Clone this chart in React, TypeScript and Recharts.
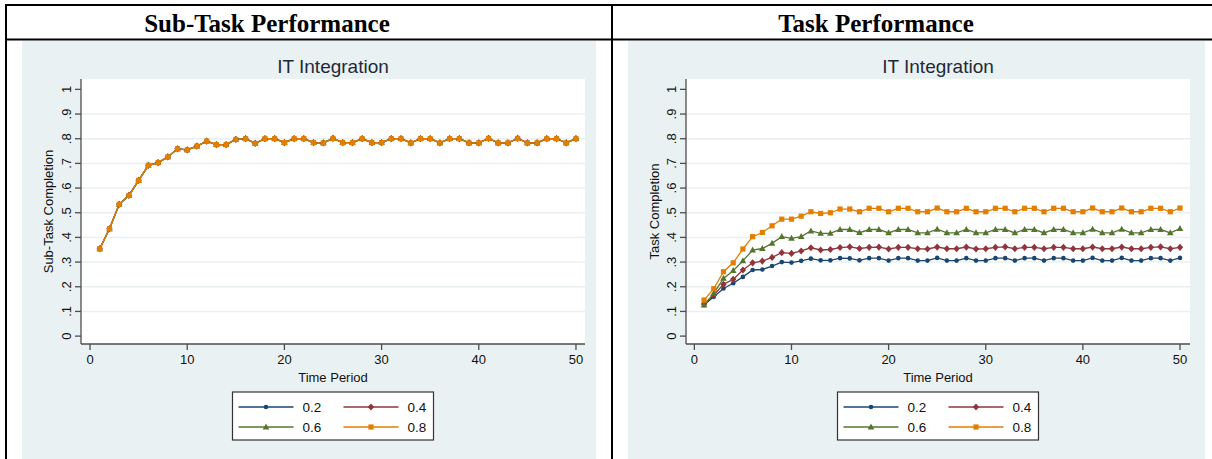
import React from 'react';
import { LineChart, Line, XAxis, YAxis, CartesianGrid } from 'recharts';

// ---------- data ----------
const timePeriods = [
  1, 2, 3, 4, 5, 6, 7, 8, 9, 10, 11, 12, 13, 14, 15, 16, 17, 18, 19, 20, 21, 22, 23, 24, 25,
  26, 27, 28, 29, 30, 31, 32, 33, 34, 35, 36, 37, 38, 39, 40, 41, 42, 43, 44, 45, 46, 47, 48, 49, 50,
];

const seriesNames = ['0.2', '0.4', '0.6', '0.8'];
const seriesColors = ['#1a476f', '#90353b', '#55752f', '#e37e00'];
const seriesShapes = ['circle', 'diamond', 'triangle', 'square'];

const yTicks = [0, 0.1, 0.2, 0.3, 0.4, 0.5, 0.6, 0.7, 0.8, 0.9, 1];
const gridValues = [0.1, 0.2, 0.3, 0.4, 0.5, 0.6, 0.7, 0.8, 0.9];
const xTicks = [0, 10, 20, 30, 40, 50];

const panelHeaders = ['Sub-Task Performance', 'Task Performance'];
const chartTitle = 'IT Integration';
const yTitles = ['Sub-Task Completion', 'Task Completion'];
const xTitle = 'Time Period';

// Sub-task completion (all four rates coincide)
const subTaskCompletion = [
  0.354, 0.435, 0.534, 0.570, 0.631, 0.692, 0.703, 0.726, 0.759, 0.755,
  0.770, 0.790, 0.776, 0.776, 0.797, 0.800, 0.781, 0.800, 0.800, 0.784,
  0.800, 0.800, 0.784, 0.783, 0.801, 0.784, 0.784, 0.800, 0.784, 0.784,
  0.800, 0.800, 0.783, 0.800, 0.800, 0.783, 0.800, 0.800, 0.783, 0.783,
  0.801, 0.783, 0.783, 0.801, 0.783, 0.783, 0.800, 0.800, 0.783, 0.800,
];

const task02 = [
  0.126, 0.159, 0.193, 0.214, 0.240, 0.268, 0.270, 0.284, 0.300, 0.298,
  0.305, 0.314, 0.307, 0.307, 0.316, 0.315, 0.307, 0.316, 0.316, 0.306,
  0.316, 0.316, 0.306, 0.306, 0.317, 0.306, 0.306, 0.316, 0.306, 0.306,
  0.316, 0.316, 0.306, 0.316, 0.316, 0.306, 0.316, 0.316, 0.306, 0.306,
  0.317, 0.306, 0.306, 0.317, 0.306, 0.306, 0.316, 0.316, 0.306, 0.317,
];
const task04 = [
  0.130, 0.166, 0.210, 0.230, 0.268, 0.297, 0.304, 0.319, 0.338, 0.335,
  0.345, 0.358, 0.349, 0.351, 0.359, 0.362, 0.355, 0.360, 0.361, 0.353,
  0.360, 0.360, 0.354, 0.353, 0.361, 0.354, 0.354, 0.361, 0.353, 0.354,
  0.360, 0.362, 0.354, 0.360, 0.360, 0.354, 0.360, 0.360, 0.354, 0.354,
  0.361, 0.354, 0.354, 0.361, 0.354, 0.354, 0.360, 0.362, 0.354, 0.360,
];
const task06 = [
  0.126, 0.173, 0.234, 0.265, 0.305, 0.349, 0.355, 0.376, 0.403, 0.396,
  0.403, 0.426, 0.416, 0.416, 0.432, 0.432, 0.419, 0.432, 0.432, 0.418,
  0.432, 0.432, 0.418, 0.418, 0.433, 0.418, 0.418, 0.432, 0.418, 0.418,
  0.432, 0.432, 0.418, 0.432, 0.432, 0.418, 0.432, 0.432, 0.418, 0.418,
  0.433, 0.418, 0.418, 0.433, 0.418, 0.418, 0.432, 0.432, 0.418, 0.436,
];
const task08 = [
  0.146, 0.192, 0.261, 0.297, 0.353, 0.403, 0.420, 0.447, 0.474, 0.474,
  0.486, 0.504, 0.497, 0.500, 0.515, 0.515, 0.504, 0.518, 0.518, 0.504,
  0.518, 0.518, 0.504, 0.504, 0.519, 0.504, 0.504, 0.518, 0.504, 0.504,
  0.518, 0.518, 0.504, 0.518, 0.518, 0.504, 0.518, 0.518, 0.504, 0.504,
  0.519, 0.504, 0.504, 0.519, 0.504, 0.504, 0.518, 0.518, 0.504, 0.519,
];

const subTaskSeries = [subTaskCompletion, subTaskCompletion, subTaskCompletion, subTaskCompletion];
const taskSeries = [task02, task04, task06, task08];

const buildRows = (series: number[][]) =>
  timePeriods.map((t, i) => {
    const row: Record<string, number> = { t };
    series.forEach((s, k) => {
      row['s' + k] = s[i];
    });
    return row;
  });

const leftRows = buildRows(subTaskSeries);
const rightRows = buildRows(taskSeries);

// ---------- styling ----------
const BG = '#eaf1f3';
const GRID = '#eaf0f2';
const AXIS = '#4d4d4d';
const FONT = 'Liberation Sans, Arial, sans-serif';
const CH_H = 418;
const PLOT_TOP = 38;
const PLOT_BOTTOM = 303;

function Marker({ shape, color, cx, cy }: { shape: string; color: string; cx: number; cy: number }) {
  if (shape === 'circle') return <circle cx={cx} cy={cy} r={2.3} fill={color} />;
  if (shape === 'diamond')
    return <polygon points={`${cx},${cy - 3.6} ${cx + 3.2},${cy} ${cx},${cy + 3.6} ${cx - 3.2},${cy}`} fill={color} />;
  if (shape === 'triangle')
    return <polygon points={`${cx},${cy - 3.6} ${cx + 3.3},${cy + 2.4} ${cx - 3.3},${cy + 2.4}`} fill={color} />;
  return <rect x={cx - 2.6} y={cy - 2.6} width={5.2} height={5.2} fill={color} />;
}

const makeDot = (shape: string, color: string) => (props: any) => {
  const { cx, cy, index } = props;
  if (cx == null || cy == null) return <g key={'d' + index} />;
  return (
    <g key={'d' + index}>
      <Marker shape={shape} color={color} cx={cx} cy={cy} />
    </g>
  );
};

const fmtY = (v: number) => {
  if (v === 0) return '0';
  if (v === 1) return '1';
  return '.' + Math.round(v * 10);
};

const RotTick = (props: any) => {
  const { x, y, payload } = props;
  return (
    <text
      transform={`translate(${x},${y}) rotate(-90)`}
      textAnchor="middle"
      fontSize={13}
      fontFamily={FONT}
      fill="#111"
    >
      {fmtY(payload.value)}
    </text>
  );
};

function Panel({
  left,
  width,
  rows,
  yTitle,
  yAxisWidth,
  rightMargin,
  xDomain,
}: {
  left: number;
  width: number;
  rows: any[];
  yTitle: string;
  yAxisWidth: number;
  rightMargin: number;
  xDomain: [number, number];
}) {
  const plotCx = (yAxisWidth + (width - rightMargin)) / 2;
  const plotCy = (PLOT_TOP + PLOT_BOTTOM) / 2;
  const legendW = 201;
  const lx = plotCx - legendW / 2;
  const ly = 351;
  return (
    <div
      style={{
        position: 'absolute',
        left,
        top: 41,
        width,
        height: CH_H,
        background: BG,
        overflow: 'hidden',
      }}
    >
      <LineChart
        width={width}
        height={CH_H}
        data={rows}
        margin={{ top: PLOT_TOP, right: rightMargin, bottom: CH_H - PLOT_BOTTOM - 30, left: 0 }}
      >
        <CartesianGrid
          vertical={false}
          horizontalValues={gridValues}
          stroke={GRID}
          strokeWidth={1.5}
          fill="#ffffff"
          fillOpacity={1}
        />
        <XAxis
          dataKey="t"
          type="number"
          domain={xDomain}
          ticks={xTicks}
          allowDataOverflow
          height={30}
          tickSize={6}
          tickMargin={5}
          stroke={AXIS}
          strokeWidth={1.3}
          tick={{ fontSize: 13, fontFamily: FONT, fill: '#111' }}
        />
        <YAxis
          type="number"
          domain={[-0.032, 1.042]}
          ticks={yTicks}
          allowDataOverflow
          width={yAxisWidth}
          tickSize={6}
          tickMargin={4}
          stroke={AXIS}
          strokeWidth={1.3}
          tick={<RotTick />}
        />
        {seriesNames.map((name, k) => (
          <Line
            key={name}
            dataKey={'s' + k}
            name={name}
            type="linear"
            stroke={seriesColors[k]}
            strokeWidth={1.3}
            dot={makeDot(seriesShapes[k], seriesColors[k])}
            activeDot={false}
            isAnimationActive={false}
          />
        ))}
      </LineChart>
      <svg
        width={width}
        height={CH_H}
        style={{ position: 'absolute', left: 0, top: 0, pointerEvents: 'none' }}
      >
        <text x={plotCx} y={32} textAnchor="middle" fontSize={19} fontFamily={FONT} fill="#1e2a36">
          {chartTitle}
        </text>
        <text
          transform={`translate(${31},${plotCy}) rotate(-90)`}
          textAnchor="middle"
          fontSize={13}
          fontFamily={FONT}
          fill="#111"
        >
          {yTitle}
        </text>
        <text x={plotCx} y={341} textAnchor="middle" fontSize={13} fontFamily={FONT} fill="#111">
          {xTitle}
        </text>
        <rect x={lx} y={ly} width={legendW} height={48} fill="#ffffff" stroke="#333" strokeWidth={1.2} />
        {seriesNames.map((name, k) => {
          const col = k % 2;
          const row = Math.floor(k / 2);
          const x0 = lx + 6 + col * 105;
          const yy = ly + 15 + row * 20;
          return (
            <g key={name}>
              <line x1={x0} x2={x0 + 55} y1={yy} y2={yy} stroke={seriesColors[k]} strokeWidth={1.3} />
              <Marker shape={seriesShapes[k]} color={seriesColors[k]} cx={x0 + 27.5} cy={yy} />
              <text x={x0 + 64} y={yy + 5} fontSize={13.5} fontFamily={FONT} fill="#111">
                {name}
              </text>
            </g>
          );
        })}
      </svg>
    </div>
  );
}

export default function App() {
  return (
    <div
      style={{
        position: 'absolute',
        left: 0,
        top: 0,
        width: 1212,
        height: 459,
        background: '#ffffff',
        overflow: 'hidden',
      }}
    >
      <svg width={1212} height={459} style={{ position: 'absolute', left: 0, top: 0 }}>
        <line x1={5} x2={1212} y1={5} y2={5} stroke="#000" strokeWidth={2} />
        <line x1={5} x2={1212} y1={39.5} y2={39.5} stroke="#000" strokeWidth={2} />
        <line x1={6} x2={6} y1={4} y2={459} stroke="#000" strokeWidth={2} />
        <line x1={612} x2={612} y1={4} y2={459} stroke="#000" strokeWidth={2} />
        <text
          x={267}
          y={32}
          textAnchor="middle"
          fontSize={25}
          fontWeight="bold"
          fontFamily="Liberation Serif, Times New Roman, serif"
          fill="#000"
        >
          {panelHeaders[0]}
        </text>
        <text
          x={876}
          y={32}
          textAnchor="middle"
          fontSize={25}
          fontWeight="bold"
          fontFamily="Liberation Serif, Times New Roman, serif"
          fill="#000"
        >
          {panelHeaders[1]}
        </text>
      </svg>
      <Panel
        left={22}
        width={574}
        rows={leftRows}
        yTitle={yTitles[0]}
        yAxisWidth={59}
        rightMargin={11}
        xDomain={[-0.93, 50.93]}
      />
      <Panel
        left={628}
        width={577}
        rows={rightRows}
        yTitle={yTitles[1]}
        yAxisWidth={58}
        rightMargin={15}
        xDomain={[-0.86, 51.03]}
      />
    </div>
  );
}
